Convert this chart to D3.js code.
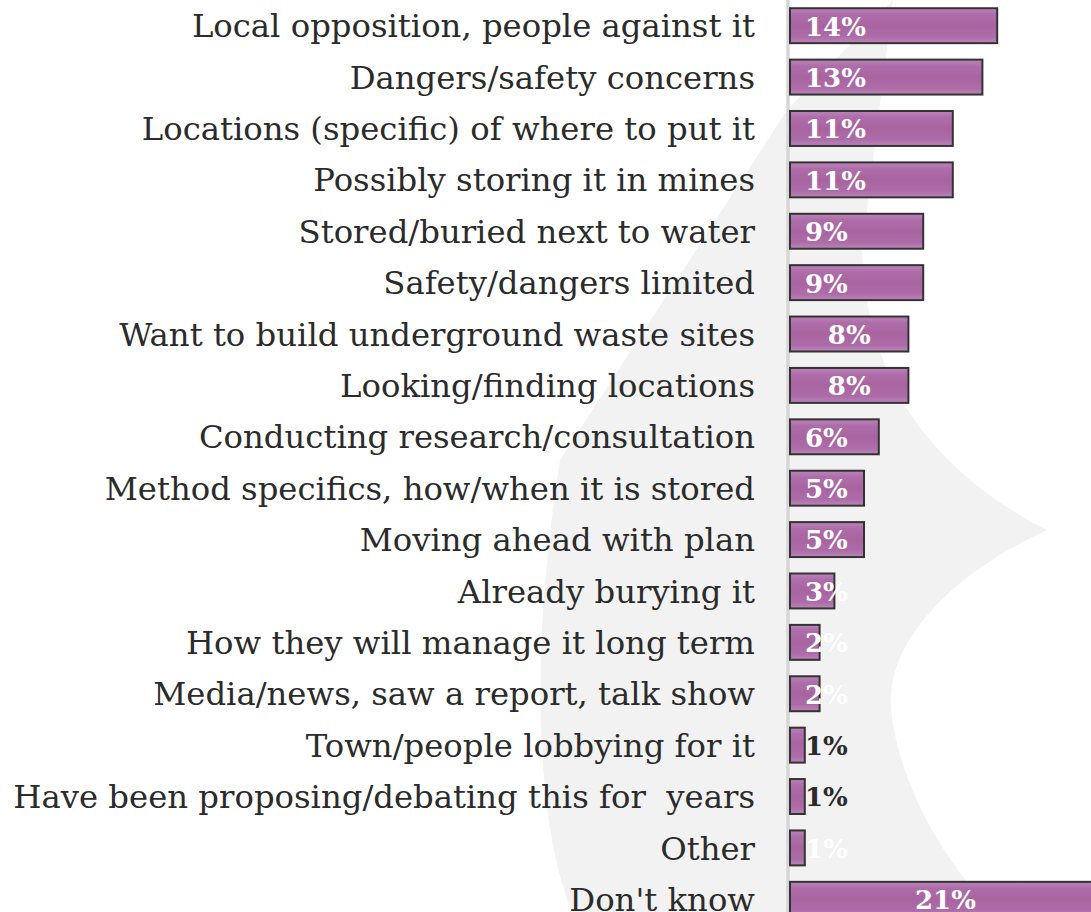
<!DOCTYPE html>
<html>
<head>
<meta charset="utf-8">
<script src="https://cdn.jsdelivr.net/npm/d3@7"></script>
<style>
  html, body { margin: 0; padding: 0; background: #ffffff; overflow: hidden; }
  svg { display: block; }
  text { white-space: pre; }
</style>
</head>
<body>
<svg id="chart" width="1091" height="912"></svg>
<script>
// ---- data ----
const categories = [
  "Local opposition, people against it",
  "Dangers/safety concerns",
  "Locations (specific) of where to put it",
  "Possibly storing it in mines",
  "Stored/buried next to water",
  "Safety/dangers limited",
  "Want to build underground waste sites",
  "Looking/finding locations",
  "Conducting research/consultation",
  "Method specifics, how/when it is stored",
  "Moving ahead with plan",
  "Already burying it",
  "How they will manage it long term",
  "Media/news, saw a report, talk show",
  "Town/people lobbying for it",
  "Have been proposing/debating this for  years",
  "Other",
  "Don't know"
];
const values = [14, 13, 11, 11, 9, 9, 8, 8, 6, 5, 5, 3, 2, 2, 1, 1, 1, 21];
const valueLabels = ["14%","13%","11%","11%","9%","9%","8%","8%","6%","5%","5%","3%","2%","2%","1%","1%","1%","21%"];
const labelAlign = ["start","start","start","start","start","start","middle","middle","start","start","start","start","start","start","start","start","start","middle"];
const labelDark  = [false,false,false,false,false,false,false,false,false,false,false,false,false,false,true,true,false,false];

// ---- layout ----
const W = 1091, H = 912;
const x0 = 790;
const svg = d3.select("#chart");

const x = d3.scaleLinear().domain([0, 21]).range([x0, x0 + 14.8 * 21]);
const y = d3.scaleBand().domain(categories).range([0, 925]).paddingInner(0.32).paddingOuter(0.16);

// defs: bar gradient
const defs = svg.append("defs");
const g1 = defs.append("linearGradient").attr("id", "barGrad").attr("x1", 0).attr("y1", 0).attr("x2", 0).attr("y2", 1);
[["0%", "#bb84b8"], ["18%", "#ae6daa"], ["50%", "#a8649f"], ["82%", "#ad6ca9"], ["100%", "#ba86b7"]]
  .forEach(([o, c]) => g1.append("stop").attr("offset", o).attr("stop-color", c));

// background watermark shape
svg.append("path")
  .attr("d", "M893,0 L862,250 C866,380 930,470 1047,530 C960,570 880,640 892,717 C900,780 940,860 995,912 L572,912 C535,820 530,650 560,460 L787,110 L893,0 Z")
  .attr("fill", "#f2f2f2");

// axis line
svg.append("line")
  .attr("x1", 788).attr("x2", 788).attr("y1", 0).attr("y2", H)
  .attr("stroke", "#d6d6d6").attr("stroke-width", 3.5);

// category labels
svg.append("g").selectAll("text")
  .data(categories)
  .join("text")
  .attr("x", 755)
  .attr("y", d => y(d) + y.bandwidth() / 2)
  .attr("dy", "0.36em")
  .attr("text-anchor", "end")
  .attr("font-family", "'DejaVu Serif', serif")
  .attr("font-size", 32.3)
  .attr("fill", "#2b2b2b")
  .text(d => d);

// bars
svg.append("g").selectAll("rect.bar")
  .data(categories)
  .join("rect")
  .attr("class", "bar")
  .attr("x", x(0))
  .attr("y", d => y(d))
  .attr("width", (d, i) => x(values[i]) - x(0))
  .attr("height", y.bandwidth())
  .attr("fill", "url(#barGrad)")
  .attr("stroke", "#333333")
  .attr("stroke-width", 2);

// value labels
svg.append("g").selectAll("text")
  .data(categories)
  .join("text")
  .attr("x", (d, i) => labelAlign[i] === "middle" ? (x(0) + x(values[i])) / 2 : x(0) + 15)
  .attr("y", d => y(d) + y.bandwidth() / 2)
  .attr("dy", "0.38em")
  .attr("text-anchor", (d, i) => labelAlign[i])
  .attr("font-family", "'DejaVu Serif', serif")
  .attr("font-weight", "bold")
  .attr("font-size", 26)
  .attr("fill", (d, i) => labelDark[i] ? "#2b2b2b" : "#ffffff")
  .text((d, i) => valueLabels[i]);
</script>
</body>
</html>
